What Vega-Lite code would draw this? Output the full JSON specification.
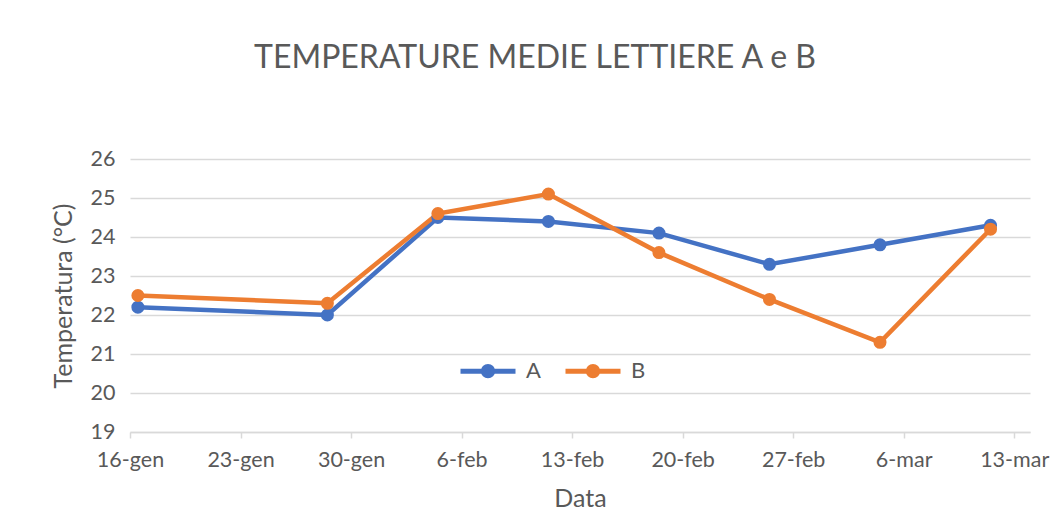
{
  "$schema": "https://vega.github.io/schema/vega-lite/v6.json",
  "width": 900,
  "height": 273,
  "autosize": "none",
  "padding": {"left": 130, "top": 159, "right": 29, "bottom": 96},
  "background": "white",
  "title": {
    "text": "TEMPERATURE MEDIE LETTIERE A e B",
    "anchor": "middle",
    "dx": -45,
    "offset": 73,
    "font": "Lato",
    "fontSize": 32,
    "fontWeight": "normal",
    "color": "#595959"
  },
  "data": {
    "values": [
      {"data": "2023-01-16T12:00:00", "serie": "A", "temp": 22.2},
      {"data": "2023-01-28T12:00:00", "serie": "A", "temp": 22.0},
      {"data": "2023-02-04T12:00:00", "serie": "A", "temp": 24.5},
      {"data": "2023-02-11T12:00:00", "serie": "A", "temp": 24.4},
      {"data": "2023-02-18T12:00:00", "serie": "A", "temp": 24.1},
      {"data": "2023-02-25T12:00:00", "serie": "A", "temp": 23.3},
      {"data": "2023-03-04T12:00:00", "serie": "A", "temp": 23.8},
      {"data": "2023-03-11T12:00:00", "serie": "A", "temp": 24.3},
      {"data": "2023-01-16T12:00:00", "serie": "B", "temp": 22.5},
      {"data": "2023-01-28T12:00:00", "serie": "B", "temp": 22.3},
      {"data": "2023-02-04T12:00:00", "serie": "B", "temp": 24.6},
      {"data": "2023-02-11T12:00:00", "serie": "B", "temp": 25.1},
      {"data": "2023-02-18T12:00:00", "serie": "B", "temp": 23.6},
      {"data": "2023-02-25T12:00:00", "serie": "B", "temp": 22.4},
      {"data": "2023-03-04T12:00:00", "serie": "B", "temp": 21.3},
      {"data": "2023-03-11T12:00:00", "serie": "B", "temp": 24.2}
    ]
  },
  "encoding": {
    "x": {
      "field": "data",
      "type": "temporal",
      "scale": {"domain": [{"year": 2023, "month": 1, "date": 16}, {"year": 2023, "month": 3, "date": 14}]},
      "axis": {
        "title": "Data",
        "values": [
          {"year": 2023, "month": 1, "date": 16},
          {"year": 2023, "month": 1, "date": 23},
          {"year": 2023, "month": 1, "date": 30},
          {"year": 2023, "month": 2, "date": 6},
          {"year": 2023, "month": 2, "date": 13},
          {"year": 2023, "month": 2, "date": 20},
          {"year": 2023, "month": 2, "date": 27},
          {"year": 2023, "month": 3, "date": 6},
          {"year": 2023, "month": 3, "date": 13}
        ],
        "labelExpr": "date(datum.value) + '-' + ['gen','feb','mar','apr'][month(datum.value)]",
        "grid": false,
        "domainColor": "#d9d9d9",
        "domainWidth": 1.5,
        "tickColor": "#d9d9d9",
        "tickWidth": 1.5,
        "tickSize": 6,
        "labelPadding": 11,
        "labelFlush": false,
        "labelOverlap": false,
        "titlePadding": 16
      }
    },
    "y": {
      "field": "temp",
      "type": "quantitative",
      "scale": {"domain": [19, 26], "nice": false, "zero": false},
      "axis": {
        "title": "Temperatura (°C)",
        "values": [19, 20, 21, 22, 23, 24, 25, 26],
        "domain": false,
        "ticks": false,
        "gridColor": "#d9d9d9",
        "gridWidth": 1.5,
        "labelPadding": 15,
        "titlePadding": 14
      }
    },
    "color": {
      "field": "serie",
      "type": "nominal",
      "scale": {"domain": ["A", "B"], "range": ["#4472C4", "#ED7D31"]},
      "legend": {
        "title": null,
        "orient": "none",
        "direction": "horizontal",
        "legendX": 328,
        "legendY": 182,
        "padding": 0,
        "symbolType": "M-1,0H-0.17A0.17,0.17,0,1,1,0.17,0H1M0.17,0A0.17,0.17,0,1,1,-0.17,0",
        "symbolSize": 3025,
        "symbolStrokeWidth": 5,
        "columnPadding": 14,
        "labelOffset": 8,
        "labelFontSize": 22,
        "encode": {
          "symbols": {
            "update": {
              "fill": {"scale": "color", "field": "value"},
              "stroke": {"scale": "color", "field": "value"},
              "opacity": {"value": 1}
            }
          }
        }
      }
    }
  },
  "layer": [
    {"mark": {"type": "line", "strokeWidth": 4.5}},
    {"mark": {"type": "point", "filled": true, "size": 170, "opacity": 1}}
  ],
  "config": {
    "font": "Lato",
    "view": {"stroke": null},
    "axis": {
      "labelFont": "Lato",
      "labelFontSize": 21.5,
      "labelColor": "#595959",
      "titleFont": "Lato",
      "titleFontSize": 25,
      "titleFontWeight": "normal",
      "titleColor": "#595959"
    },
    "legend": {
      "labelFont": "Lato",
      "labelFontSize": 22,
      "labelColor": "#595959"
    }
  }
}
